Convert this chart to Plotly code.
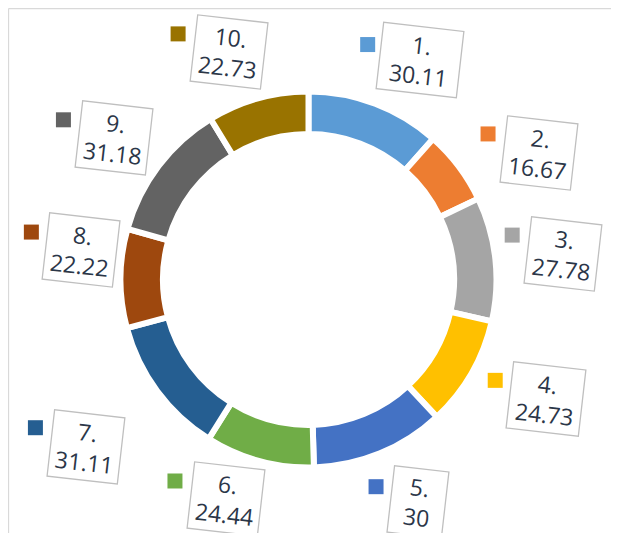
import math
import plotly.graph_objects as go

# ---- data ----
categories = ["1", "2", "3", "4", "5", "6", "7", "8", "9", "10"]
values = [30.11, 16.67, 27.78, 24.73, 30, 24.44, 31.11, 22.22, 31.18, 22.73]
value_labels = ["30.11", "16.67", "27.78", "24.73", "30", "24.44", "31.11", "22.22", "31.18", "22.73"]
colors = ["#5B9BD5", "#ED7D31", "#A5A5A5", "#FFC000", "#4472C4",
          "#70AD47", "#255E91", "#9E480E", "#636363", "#997300"]

# ---- layout constants ----
OFF = 8                               # page body margin compensation
W, H = 619 - OFF, 533 - OFF
CX, CY = 308.5 - OFF, 279.5 - OFF     # donut centre (px from top-left of figure)
R_OUT = 188.0                         # outer radius incl. white separator line
HOLE = 0.774
label_dist = [246, 263, 256, 266, 247.5, 234.5, 278, 229, 240, 240.5]
label_dang = [6.1, 8.2, 0.5, -3.25, -3.8, 5.4, -0.5, 7.0, -1.1, -3.6]
box_w = [82, 72, 72, 74, 56, 72, 72, 72, 72, 72]
box_h = 68
sq_dx = [-52, -51, -51, -51, -41.5, -51, -51, -50, -51, -51]
sq_dy = [-15.5, -19, -18.5, -18.5, -15, -18, -19, -18.3, -18.5, -18.6]
PAD, BW = 2, 1.3

fig = go.Figure()
fig.add_trace(go.Pie(
    labels=categories,
    values=values,
    sort=False,
    direction="clockwise",
    rotation=0,
    hole=HOLE,
    marker=dict(colors=colors, line=dict(color="white", width=6)),
    textinfo="none",
    hoverinfo="label+value",
    showlegend=False,
    domain=dict(x=[(CX - R_OUT) / W, (CX + R_OUT) / W],
                y=[(H - CY - R_OUT) / H, (H - CY + R_OUT) / H]),
))

total = sum(values)
annotations = []
fx = (8.5 - OFF) / W
fy = 1 - (8.5 - OFF) / H
shapes = [
    dict(type="line", xref="paper", yref="paper", x0=fx, x1=1.0, y0=fy, y1=fy,
         line=dict(color="#D9D9D9", width=1.3)),
    dict(type="line", xref="paper", yref="paper", x0=fx, x1=fx, y0=0, y1=fy,
         line=dict(color="#D9D9D9", width=1.3)),
]
cum = 0.0
for i, v in enumerate(values):
    mid = (cum + v / 2) / total * 360 + label_dang[i]
    cum += v
    a = math.radians(mid)
    bx = CX + label_dist[i] * math.sin(a)
    by = CY - label_dist[i] * math.cos(a)
    annotations.append(dict(
        x=bx / W, y=1 - by / H, xref="paper", yref="paper",
        text=f"{categories[i]}.<br>{value_labels[i]}",
        showarrow=False, textangle=6.5,
        font=dict(family="Open Sans, sans-serif", size=23, color="#2B3648"),
        align="center", valign="middle", bgcolor="white",
        bordercolor="#BFBFBF", borderwidth=BW, borderpad=PAD,
        width=box_w[i] - 2 * (PAD + BW), height=box_h - 2 * (PAD + BW),
        xanchor="center", yanchor="middle",
    ))
    sx, sy = bx + sq_dx[i], by + sq_dy[i]
    shapes.append(dict(type="rect", xref="paper", yref="paper",
                       x0=(sx - 7.5) / W, x1=(sx + 7.5) / W,
                       y0=1 - (sy + 7.5) / H, y1=1 - (sy - 7.5) / H,
                       line=dict(width=0), fillcolor=colors[i]))

fig.update_layout(
    width=W, height=H,
    margin=dict(l=0, r=0, t=0, b=0),
    paper_bgcolor="white", plot_bgcolor="white",
    annotations=annotations, shapes=shapes,
)
fig.write_html("out.html")
